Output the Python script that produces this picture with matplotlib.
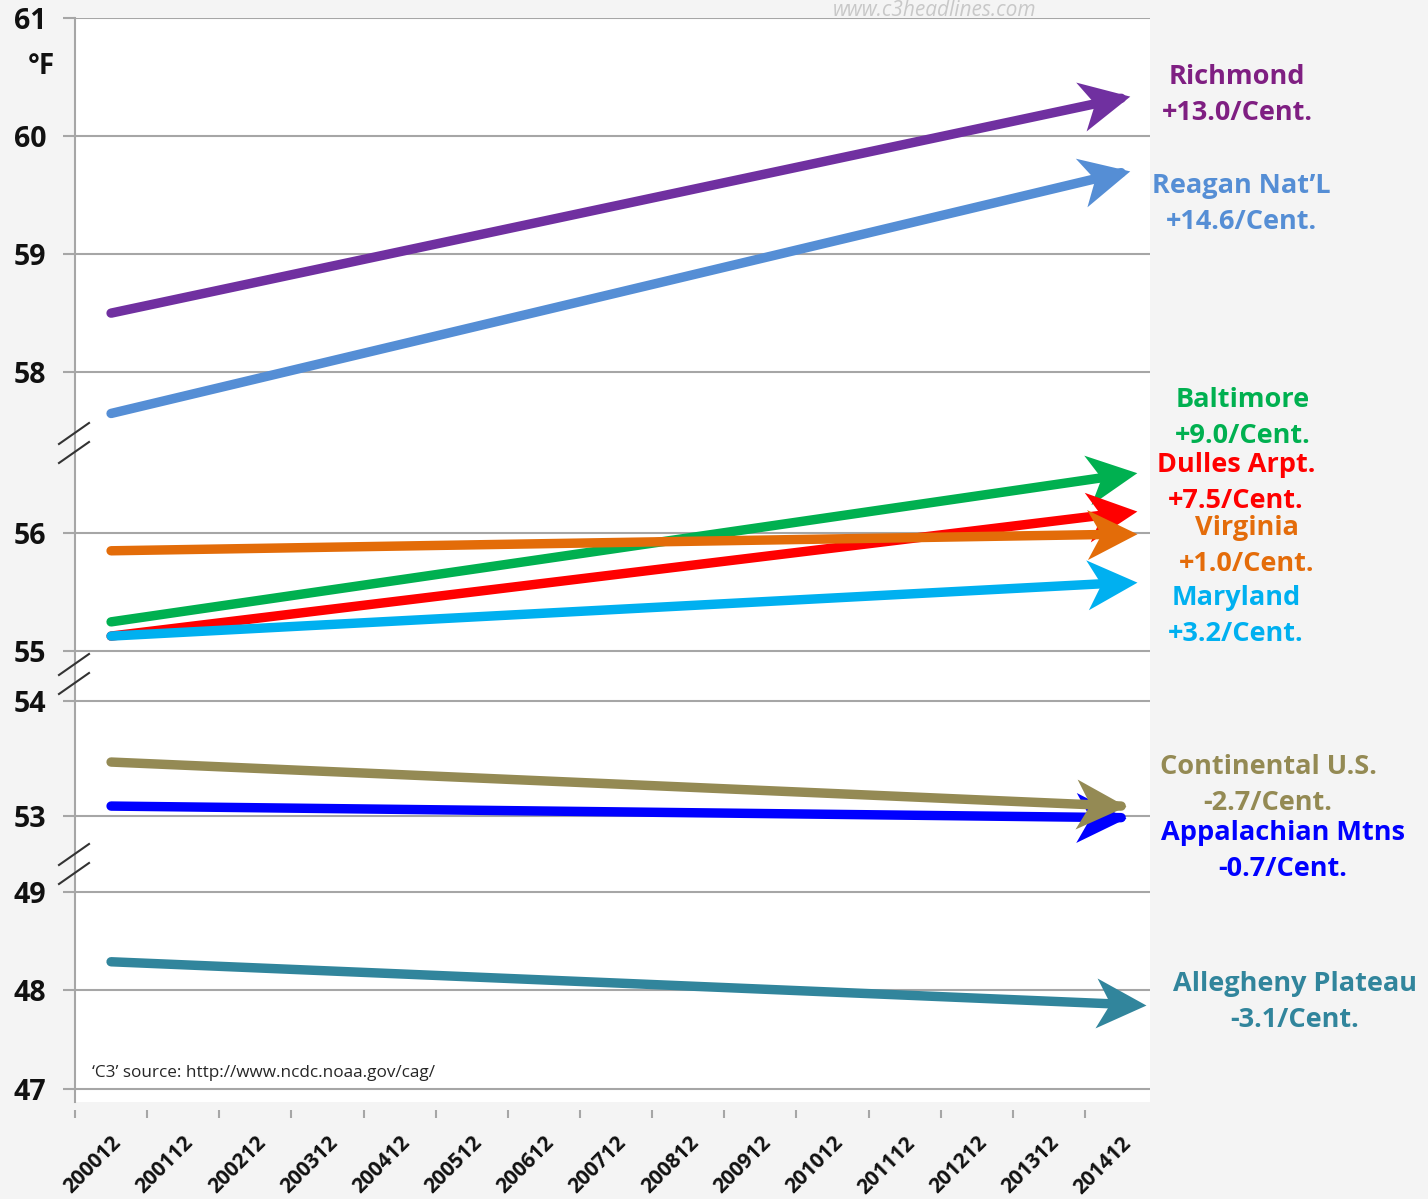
import numpy as np
import matplotlib
matplotlib.use("Agg")
from matplotlib import pyplot as plt
from matplotlib.path import Path
from matplotlib.markers import MarkerStyle
from matplotlib.transforms import Affine2D, ScaledTranslation, IdentityTransform, blended_transform_factory
from matplotlib.lines import Line2D

plt.rcParams['font.family'] = ['Open Sans', 'DejaVu Sans']

W, H = 1428, 1199

years = ['200012', '200112', '200212', '200312', '200412', '200512', '200612', '200712',
         '200812', '200912', '201012', '201112', '201212', '201312', '201412']

names = ['Richmond', 'Reagan Nat\u2019L', 'Baltimore', 'Dulles Arpt.', 'Virginia', 'Maryland',
         'Appalachian Mtns', 'Continental U.S.', 'Allegheny Plateau']
rates = ['+13.0/Cent.', '+14.6/Cent.', '+9.0/Cent.', '+7.5/Cent.', '+1.0/Cent.', '+3.2/Cent.',
         '-0.7/Cent.', '-2.7/Cent.', '-3.1/Cent.']
# trend value at 200012 and at 201412 (deg F)
start_vals = [58.50, 57.65, 55.25, 55.13, 55.85, 55.13, 53.09, 53.47, 48.29]
end_vals = [60.32, 59.69, 56.49, 56.17, 55.99, 55.58, 52.99, 53.09, 47.86]

line_colors = ['#7030A0', '#558ED5', '#00B050', '#FF0000', '#E36C09', '#00B0F0',
               '#0000FF', '#948A54', '#31859C']
text_colors = ['#7F1F82', '#558ED5', '#00B050', '#FF0000', '#E46C0A', '#00B0F0',
               '#0000FF', '#948A54', '#31859C']

# label centres (pixels) and arrow tip offsets
label_x = [1237, 1241, 1243, 1236, 1247, 1236, 1283, 1268, 1295]
label_y = [77, 186, 400, 465, 528, 598, 833, 767, 984]
tip_off = [9, 9, 16, 16, 16, 16, 5, 5, 25]

yticks = [47, 48, 49, 53, 54, 55, 56, 58, 59, 60, 61]

# broken axis: piecewise linear scale
seg_vals = [46.87, 49.28, 52.59, 54.23, 54.81, 56.76, 57.40, 61.0]
seg_pos = [0.0, 238.0, 238.01, 428.0, 428.01, 659.0, 659.01, 1084.0]
breaks = [50.9, 54.52, 57.08]


def fwd(v):
    return np.interp(v, seg_vals, seg_pos)


def inv(p):
    return np.interp(p, seg_pos, seg_vals)


fig = plt.figure(figsize=(W / 100, H / 100), dpi=100, facecolor='#f4f4f4')
ax = fig.add_axes([75 / W, 1 - 1102 / H, 1075 / W, 1084 / H])
ax.set_facecolor('white')
ax.set_yscale('function', functions=(fwd, inv))
ax.set_ylim(46.87, 61)
ax.set_xlim(-0.5, 14.4)

grid_c = '#a6a6a6'
for s in ['top', 'right', 'bottom']:
    ax.spines[s].set_visible(False)
ax.spines['left'].set_color(grid_c)
ax.spines['left'].set_linewidth(1.5)
ax.spines['bottom'].set_position(('outward', 5.8))

ax.set_yticks(yticks, [str(t) for t in yticks], fontweight='bold')
ax.tick_params(axis='y', length=8.6, width=1.5, color=grid_c, pad=12, labelsize=20.5, labelcolor='#111111')
ax.yaxis.grid(True, color=grid_c, lw=1.5)
ax.set_axisbelow(True)

ax.set_xticks(np.arange(-0.5, 14, 1), [''] * 15)
ax.tick_params(axis='x', length=5.8, width=1.5, color=grid_c)

lab_tr = blended_transform_factory(ax.transData, ax.transAxes) + \
    ScaledTranslation(0.07, -0.38, fig.dpi_scale_trans)
for i, yr in enumerate(years):
    ax.text(i, 0, yr, transform=lab_tr, rotation=45, rotation_mode='anchor',
            ha='right', va='center', fontsize=15, fontweight='bold', color='#111111')

# trend arrows
L, HW, N = 50, 25, 14
for k in range(len(names)):
    x0, x1 = 0, len(years) - 1
    ax.plot([x0, x1], [start_vals[k], end_vals[k]], color=line_colors[k], lw=6.8,
            solid_capstyle='round', zorder=3 + k)
    p0 = ax.transData.transform((x0, start_vals[k]))
    p1 = ax.transData.transform((x1, end_vals[k]))
    ang = np.degrees(np.arctan2(p1[1] - p0[1], p1[0] - p0[0]))
    t = tip_off[k]
    verts = [(t, 0), (t - L, HW), (t - L + N, 0), (t - L, -HW), (t, 0)]
    codes = [Path.MOVETO, Path.LINETO, Path.LINETO, Path.LINETO, Path.CLOSEPOLY]
    sc = max(abs(c) for v in verts for c in v)
    mk = MarkerStyle(Path(verts, codes), transform=Affine2D().rotate_deg(ang))
    ax.plot([x1], [end_vals[k]], marker=mk, markersize=sc * 2 * 0.72, color=line_colors[k],
            markeredgewidth=0, linestyle='none', clip_on=False, zorder=3 + k)

    fig.text(label_x[k] / W, 1 - label_y[k] / H, names[k], color=text_colors[k],
             fontsize=19.5, fontweight='bold', ha='center', va='center')
    fig.text(label_x[k] / W, 1 - (label_y[k] + 36) / H, rates[k], color=text_colors[k],
             fontsize=19.5, fontweight='bold', ha='center', va='center')

# break marks on the y axis
for b in breaks:
    yc = ax.transData.transform((0, b))[1]
    for d in (9.5, -9.5):
        fig.add_artist(Line2D([59, 89], [yc + d - 10.5, yc + d + 10.5], color='#333333',
                              lw=1.5, transform=IdentityTransform()))

fig.text(41 / W, 1 - 67 / H, '\u00b0F', fontsize=20, fontweight='bold', ha='center',
         va='center', color='#111111')
fig.text(92 / W, 1 - 1073 / H, '\u2018C3\u2019 source: http://www.ncdc.noaa.gov/cag/',
         fontsize=12.3, va='center', color='#262626')
fig.text(935 / W, 1 - 16 / H, 'www.c3headlines.com', fontsize=15, style='italic',
         color='#c8c8c8', ha='center', va='baseline')

fig.savefig('out.png', dpi=100, facecolor=fig.get_facecolor())
